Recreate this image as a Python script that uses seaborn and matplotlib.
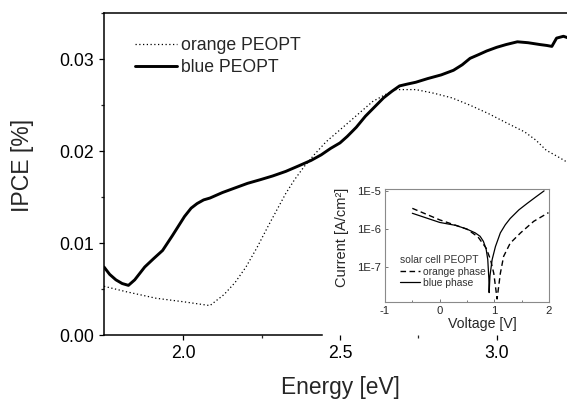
import matplotlib
matplotlib.use("Agg")
import matplotlib.pyplot as plt
import seaborn as sns
import pandas as pd
from matplotlib.ticker import MultipleLocator, FormatStrFormatter, FixedLocator

# IPCE spectra (energy in eV, IPCE in %)
blue_energy = [1.747, 1.765, 1.785, 1.805, 1.825, 1.845, 1.877, 1.905, 1.934, 1.965,
               2.004, 2.025, 2.044, 2.065, 2.085, 2.125, 2.165, 2.205, 2.246, 2.285,
               2.327, 2.368, 2.408, 2.440, 2.470, 2.500, 2.523, 2.552, 2.581, 2.610,
               2.639, 2.665, 2.690, 2.715, 2.742, 2.780, 2.823, 2.862, 2.890, 2.915,
               2.942, 2.968, 3.000, 3.030, 3.066, 3.100, 3.138, 3.160, 3.176, 3.191,
               3.213, 3.230]
blue_ipce = [0.0074, 0.0066, 0.0060, 0.0056, 0.0054, 0.0060, 0.0074, 0.0083, 0.0092, 0.0108,
             0.0129, 0.0138, 0.0143, 0.0147, 0.0149, 0.0155, 0.0160, 0.0165, 0.0169, 0.0173,
             0.0178, 0.0184, 0.0190, 0.0196, 0.0203, 0.0209, 0.0216, 0.0226, 0.0238, 0.0248,
             0.0258, 0.0265, 0.0271, 0.0273, 0.0275, 0.0279, 0.0283, 0.0288, 0.0294, 0.0301,
             0.0305, 0.0309, 0.0313, 0.0316, 0.0319, 0.0318, 0.0316, 0.0315, 0.0314, 0.0323,
             0.0325, 0.0323]

orange_energy = [1.747, 1.819, 1.913, 2.004, 2.085, 2.130, 2.165, 2.200, 2.235, 2.270,
                 2.300, 2.327, 2.355, 2.385, 2.420, 2.455, 2.523, 2.604, 2.674, 2.742,
                 2.800, 2.857, 2.915, 2.973, 3.030, 3.089, 3.125, 3.158, 3.195, 3.230]
orange_ipce = [0.0053, 0.0047, 0.0040, 0.0036, 0.0032, 0.0044, 0.0057, 0.0074, 0.0095, 0.0118,
               0.0137, 0.0154, 0.0169, 0.0183, 0.0197, 0.0210, 0.0230, 0.0254, 0.0267, 0.0267,
               0.0263, 0.0258, 0.0250, 0.0241, 0.0231, 0.0221, 0.0212, 0.0201, 0.0194, 0.0187]

# inset: I-V curves of the solar cell (voltage in V, current in A/cm^2)
blue_volt = [-0.5, 0.0, 0.3, 0.5, 0.65, 0.74, 0.80, 0.85, 0.88, 0.90, 0.905, 0.92, 0.96,
             1.02, 1.11, 1.20, 1.29, 1.45, 1.6, 1.75, 1.91]
blue_curr = [2.6e-6, 1.5e-6, 1.25e-6, 1.0e-6, 8e-7, 6.5e-7, 4.8e-7, 3.0e-7, 1.6e-7, 5e-8,
             2.2e-8, 6e-8, 1.6e-7, 3.5e-7, 8e-7, 1.3e-6, 1.9e-6, 3.2e-6, 4.7e-6, 6.8e-6,
             1.0e-5]

orange_volt = [-0.5, 0.0, 0.3, 0.5, 0.7, 0.85, 0.93, 0.99, 1.05, 1.11, 1.17, 1.29, 1.48,
               1.72, 1.99]
orange_curr = [3.5e-6, 1.75e-6, 1.25e-6, 1.0e-6, 6.3e-7, 3.2e-7, 1.6e-7, 7e-8, 1.5e-8,
               7e-8, 1.95e-7, 4.3e-7, 8e-7, 1.6e-6, 2.7e-6]


def main():
    sns.set_style("ticks")
    plt.rcParams["font.family"] = ["Liberation Sans", "DejaVu Sans"]

    W, H = 567, 400
    fig = plt.figure(figsize=(W / 100, H / 100), dpi=100)

    # main axes (right edge sits just outside the picture, as in the original)
    left, right, top, bottom = 104, 576, 13.3, 335
    ax = fig.add_axes([left / W, 1 - bottom / H, (right - left) / W, (bottom - top) / H])

    ipce = pd.DataFrame({"energy": orange_energy, "ipce": orange_ipce})
    sns.lineplot(data=ipce, x="energy", y="ipce", ax=ax, color="black", lw=0.9,
                 linestyle=(0, (1, 2)), sort=False, estimator=None, label="orange PEOPT")
    ipce = pd.DataFrame({"energy": blue_energy, "ipce": blue_ipce})
    sns.lineplot(data=ipce, x="energy", y="ipce", ax=ax, color="black", lw=2.1,
                 sort=False, estimator=None, label="blue PEOPT")

    ax.set_xlim(1.747, 3.253)
    ax.set_ylim(0, 0.035)
    ax.xaxis.set_major_locator(FixedLocator([2.0, 2.5, 3.0]))
    ax.xaxis.set_minor_locator(FixedLocator([2.25, 2.75, 3.25]))
    ax.xaxis.set_major_formatter(FormatStrFormatter("%.1f"))
    ax.yaxis.set_major_locator(MultipleLocator(0.01))
    ax.yaxis.set_minor_locator(MultipleLocator(0.005))
    ax.yaxis.set_major_formatter(FormatStrFormatter("%.2f"))
    ax.tick_params(which="major", direction="out", length=3.8, width=0.9,
                   labelsize=12.7, pad=3.2, color="black", labelcolor="black")
    ax.tick_params(which="minor", direction="out", length=2.4, width=0.9)
    for side in ["left", "bottom", "top"]:
        ax.spines[side].set_linewidth(1.1)
        ax.spines[side].set_color("black")
    ax.spines["right"].set_visible(False)
    ax.spines["bottom"].set_bounds(1.747, 2.443)

    ax.set_xlabel("Energy [eV]", fontsize=16.4)
    ax.set_ylabel("IPCE [%]", fontsize=16.6)
    ax.xaxis.set_label_coords(0.5, -0.128)
    ax.yaxis.set_label_coords(-0.148, 0.528)

    ax.legend(loc="upper left", bbox_to_anchor=(134.5 / W, 1 - 37 / H),
              bbox_transform=fig.transFigure, frameon=False, fontsize=12.7,
              handlelength=2.4, handletextpad=0.23, labelspacing=0.3,
              borderpad=0, borderaxespad=0)

    # inset with the I-V curves
    il, ir, it, ib = 385, 549, 189.3, 302
    axi = fig.add_axes([il / W, 1 - ib / H, (ir - il) / W, (ib - it) / H])
    iv = pd.DataFrame({"volt": orange_volt, "curr": orange_curr})
    sns.lineplot(data=iv, x="volt", y="curr", ax=axi, color="black", lw=1.0,
                 linestyle=(0, (4, 2.5)), sort=False, estimator=None, label="orange phase")
    iv = pd.DataFrame({"volt": blue_volt, "curr": blue_curr})
    sns.lineplot(data=iv, x="volt", y="curr", ax=axi, color="black", lw=0.9,
                 sort=False, estimator=None, label="blue phase")
    axi.set_yscale("log")
    axi.set_xlim(-1, 2)
    axi.set_ylim(1.25e-8, 1.1e-5)
    axi.set_xticks([-1, 0, 1, 2])
    axi.set_xticklabels(["-1", "0", "1", "2"])
    axi.xaxis.set_minor_locator(FixedLocator([-0.5, 0.5, 1.5]))
    axi.set_yticks([1e-7, 1e-6, 1e-5])
    axi.set_yticklabels(["1E-7", "1E-6", "1E-5"])
    axi.yaxis.set_minor_locator(FixedLocator([]))
    axi.tick_params(which="major", direction="in", length=2.5, width=0.7,
                    labelsize=8.1, pad=2.6, color="#777777")
    axi.tick_params(which="minor", direction="in", length=1.6, width=0.7, color="#777777")
    for side in axi.spines:
        axi.spines[side].set_linewidth(0.8)
        axi.spines[side].set_color("#8a8a8a")
    axi.set_xlabel("Voltage [V]", fontsize=10.2)
    axi.set_ylabel("Current [A/cm²]", fontsize=10.5)
    axi.xaxis.set_label_coords(0.596, -0.13)
    axi.yaxis.set_label_coords(-0.22, 0.572)

    ileg = axi.legend(loc="upper left", bbox_to_anchor=(399.6 / W, 1 - 255 / H),
                      bbox_transform=fig.transFigure, frameon=False, fontsize=7.4,
                      title="solar cell PEOPT", title_fontsize=7.4, alignment="left",
                      handlelength=2.0, handletextpad=0.3, labelspacing=0.15,
                      borderpad=0, borderaxespad=0)
    for txt in ileg.get_texts():
        txt.set_color("#333333")
    ileg.get_title().set_color("#333333")

    fig.savefig("out.png", dpi=100)


if __name__ == "__main__":
    main()
